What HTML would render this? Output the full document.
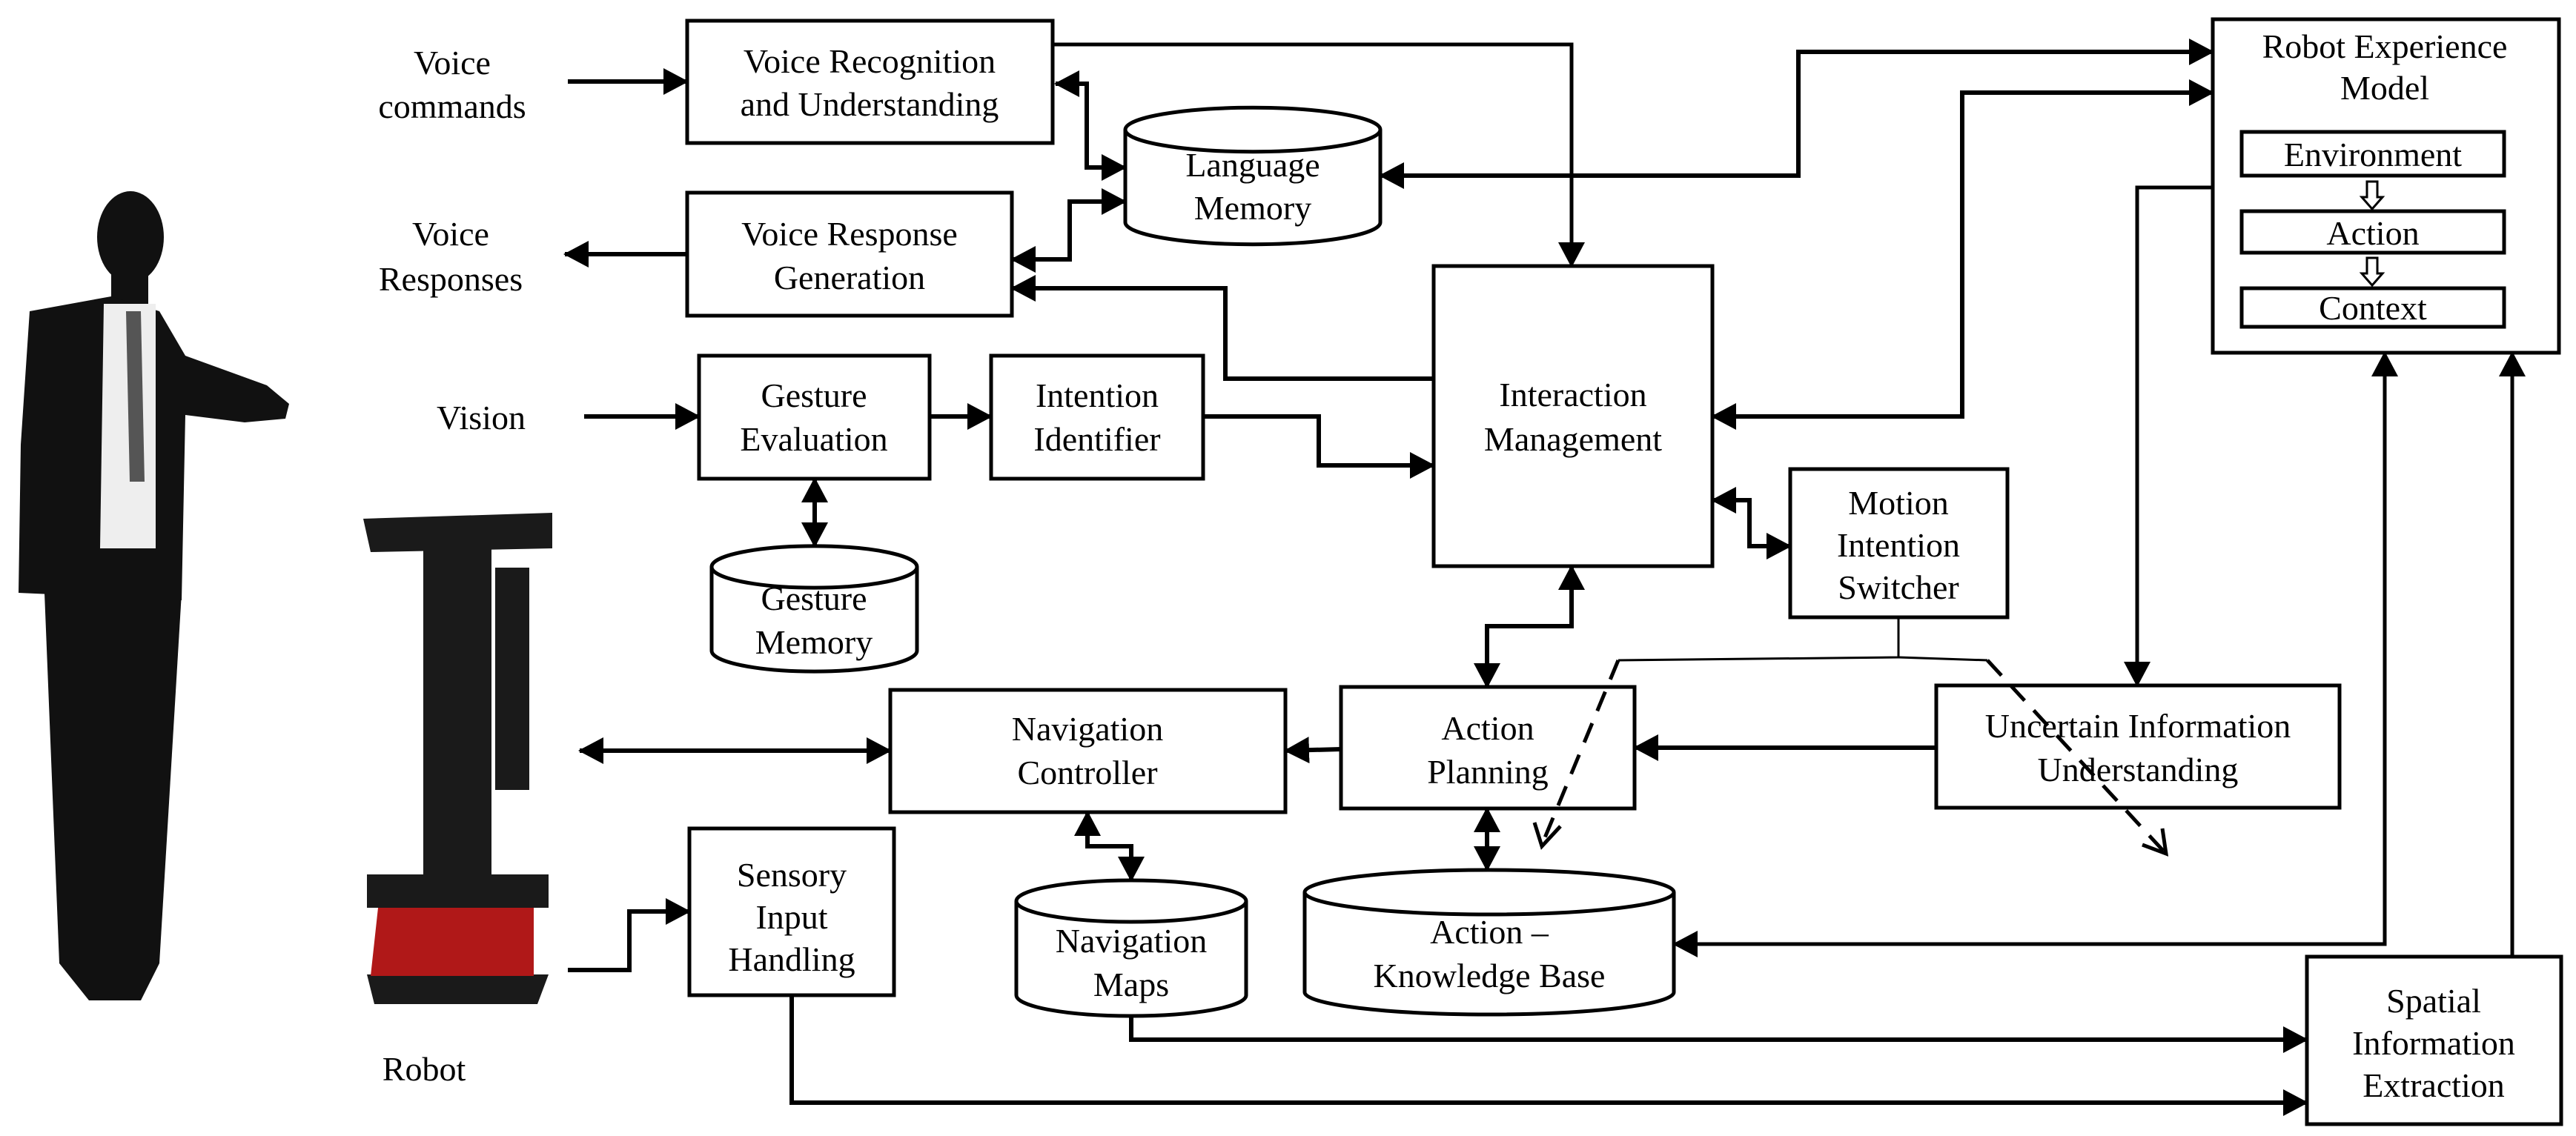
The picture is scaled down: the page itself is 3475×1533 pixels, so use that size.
<!DOCTYPE html>
<html><head><meta charset="utf-8"><style>
html,body{margin:0;padding:0;background:#fff;}
svg{display:block;}
text{font-family:"Liberation Serif",serif;font-size:46px;fill:#000;text-anchor:middle;}
</style></head><body>
<svg width="3475" height="1533" viewBox="0 0 3475 1533" xmlns="http://www.w3.org/2000/svg">
<defs>
<marker id="a" markerUnits="userSpaceOnUse" markerWidth="34" markerHeight="36" refX="32" refY="18" orient="auto-start-reverse">
<path d="M0,0 L34,18 L0,36 z" fill="#000"/>
</marker>
</defs>

<!-- person -->
<g fill="#111">
<ellipse cx="176" cy="320" rx="45" ry="62"/>
<rect x="150" y="360" width="50" height="70"/>
<path d="M40,420 L150,400 L215,420 L250,480 L360,520 L390,545 L385,565 L330,570 L250,560 L245,810 L25,800 L28,600 Z"/>
<path d="M60,800 L245,800 L215,1300 L190,1350 L120,1350 L80,1300 Z"/>
</g>
<path d="M140,410 L210,410 L210,740 L135,740 Z" fill="#eee"/>
<path d="M170,420 L190,420 L195,650 L175,650 Z" fill="#555"/>

<!-- robot -->
<g fill="#1a1a1a">
<path d="M490,700 L745,692 L745,740 L500,745 Z"/>
<rect x="571" y="735" width="92" height="470"/>
<rect x="668" y="766" width="46" height="300"/>
<path d="M495,1180 L740,1180 L740,1225 L495,1225 Z"/>
<path d="M495,1315 L740,1315 L725,1355 L505,1355 Z"/>
</g>
<path d="M510,1225 L720,1225 L720,1317 L500,1317 Z" fill="#b01818"/>
<text x="572" y="1458">Robot</text>

<g fill="none" stroke="#000" stroke-width="5">
<!-- boxes -->
<rect x="927" y="28" width="493" height="165"/>
<rect x="927" y="260" width="438" height="166"/>
<rect x="943" y="480" width="311" height="166"/>
<rect x="1337" y="480" width="286" height="166"/>
<rect x="1934" y="359" width="376" height="405"/>
<rect x="2415" y="633" width="293" height="200"/>
<rect x="2985" y="26" width="467" height="450"/>
<rect x="3024" y="178" width="354" height="59"/>
<rect x="3024" y="285" width="354" height="56"/>
<rect x="3024" y="389" width="354" height="52"/>
<rect x="1201" y="931" width="533" height="165"/>
<rect x="1809" y="927" width="396" height="164"/>
<rect x="2612" y="925" width="544" height="165"/>
<rect x="930" y="1118" width="276" height="225"/>
<rect x="3112" y="1291" width="343" height="226"/>
<!-- cylinders -->
<path d="M1518,175 A162,28 0 0 1 1862,175 L1862,300 A162,28 0 0 1 1518,300 Z M1518,175 A162,28 0 0 0 1862,175"/>
<path d="M960,765 A138,28 0 0 1 1237,765 L1237,878 A138,28 0 0 1 960,878 Z M960,765 A138,28 0 0 0 1237,765"/>
<path d="M1371,1216 A155,28 0 0 1 1681,1216 L1681,1343 A155,28 0 0 1 1371,1343 Z M1371,1216 A155,28 0 0 0 1681,1216"/>
<path d="M1760,1204 A249,30 0 0 1 2258,1204 L2258,1339 A249,30 0 0 1 1760,1339 Z M1760,1204 A249,30 0 0 0 2258,1204"/>
</g>

<g fill="none" stroke="#000" stroke-width="6" stroke-linejoin="miter">
<line x1="766" y1="110" x2="927" y2="110" marker-end="url(#a)"/>
<line x1="927" y1="343" x2="762" y2="343" marker-end="url(#a)"/>
<line x1="788" y1="562" x2="943" y2="562" marker-end="url(#a)"/>
<line x1="1254" y1="562" x2="1337" y2="562" marker-end="url(#a)"/>
<polyline points="1420,60 2120,60 2120,359" marker-end="url(#a)" stroke-width="5"/>
<polyline points="1424,113 1466,113 1466,226 1518,226" marker-start="url(#a)" marker-end="url(#a)"/>
<polyline points="1518,272 1443,272 1443,350 1365,350" marker-start="url(#a)" marker-end="url(#a)"/>
<polyline points="1934,511 1653,511 1653,389 1365,389" marker-end="url(#a)"/>
<polyline points="1099,646 1099,737" marker-start="url(#a)" marker-end="url(#a)"/>
<polyline points="1623,562 1779,562 1779,628 1934,628" marker-end="url(#a)"/>
<polyline points="1862,237 2426,237 2426,70 2985,70" marker-start="url(#a)" marker-end="url(#a)"/>
<polyline points="2985,125 2647,125 2647,562 2310,562" marker-start="url(#a)" marker-end="url(#a)"/>
<polyline points="2310,675 2360,675 2360,737 2415,737" marker-start="url(#a)" marker-end="url(#a)"/>
<polyline points="2985,253 2883,253 2883,925" marker-end="url(#a)" stroke-width="5"/>
<polyline points="2120,764 2120,845 2006,845 2006,927" marker-start="url(#a)" marker-end="url(#a)"/>
<line x1="2612" y1="1009" x2="2205" y2="1009" marker-end="url(#a)"/>
<line x1="1809" y1="1011" x2="1734" y2="1013" marker-end="url(#a)"/>
<line x1="2006" y1="1091" x2="2006" y2="1174" marker-start="url(#a)" marker-end="url(#a)"/>
<polyline points="2258,1274 3217,1274 3217,476" marker-start="url(#a)" marker-end="url(#a)" stroke-width="5"/>
<line x1="3389" y1="1291" x2="3389" y2="476" marker-end="url(#a)" stroke-width="5"/>
<line x1="782" y1="1013" x2="1201" y2="1013" marker-start="url(#a)" marker-end="url(#a)"/>
<polyline points="766,1309 849,1309 849,1230 930,1230" marker-end="url(#a)"/>
<polyline points="1467,1096 1467,1142 1526,1142 1526,1188" marker-start="url(#a)" marker-end="url(#a)"/>
<polyline points="1526,1371 1526,1403 3112,1403" marker-end="url(#a)"/>
<polyline points="1068,1343 1068,1488 3112,1488" marker-end="url(#a)"/>
</g>
<!-- dashed -->
<g fill="none" stroke="#000" stroke-width="3">
<polyline points="2561,833 2561,887 2183,891"/>
<polyline points="2561,887 2681,891"/>
</g>
<g fill="none" stroke="#000" stroke-width="5" stroke-dasharray="28,18">
<line x1="2183" y1="891" x2="2080" y2="1140"/>
<line x1="2681" y1="891" x2="2920" y2="1150"/>
</g>
<g fill="none" stroke="#000" stroke-width="5">
<polyline points="2070,1110 2080,1142 2105,1115"/>
<polyline points="2890,1140 2922,1152 2917,1118"/>
</g>
<!-- hollow arrows -->
<g fill="#fff" stroke="#000" stroke-width="3">
<path d="M3193,245 L3207,245 L3207,266 L3214,266 L3200,282 L3186,266 L3193,266 Z"/>
<path d="M3193,348 L3207,348 L3207,369 L3214,369 L3200,385 L3186,369 L3193,369 Z"/>
</g>

<!-- labels -->
<text x="610" y="100">Voice</text>
<text x="610" y="159">commands</text>
<text x="608" y="331">Voice</text>
<text x="608" y="392">Responses</text>
<text x="649" y="579">Vision</text>
<text x="1173" y="98">Voice Recognition</text>
<text x="1173" y="156">and Understanding</text>
<text x="1146" y="331">Voice Response</text>
<text x="1146" y="390">Generation</text>
<text x="1690" y="238">Language</text>
<text x="1690" y="296">Memory</text>
<text x="1098" y="549">Gesture</text>
<text x="1098" y="608">Evaluation</text>
<text x="1480" y="549">Intention</text>
<text x="1480" y="608">Identifier</text>
<text x="1098" y="823">Gesture</text>
<text x="1098" y="882">Memory</text>
<text x="2122" y="548">Interaction</text>
<text x="2122" y="608">Management</text>
<text x="2561" y="694">Motion</text>
<text x="2561" y="751">Intention</text>
<text x="2561" y="808">Switcher</text>
<text x="3217" y="78">Robot Experience</text>
<text x="3217" y="134">Model</text>
<text x="3201" y="224">Environment</text>
<text x="3201" y="330">Action</text>
<text x="3201" y="431">Context</text>
<text x="1467" y="999">Navigation</text>
<text x="1467" y="1058">Controller</text>
<text x="2007" y="998">Action</text>
<text x="2007" y="1057">Planning</text>
<text x="2884" y="995">Uncertain Information</text>
<text x="2884" y="1054">Understanding</text>
<text x="1068" y="1196">Sensory</text>
<text x="1068" y="1253">Input</text>
<text x="1068" y="1310">Handling</text>
<text x="1526" y="1285">Navigation</text>
<text x="1526" y="1344">Maps</text>
<text x="2009" y="1273">Action –</text>
<text x="2009" y="1332">Knowledge Base</text>
<text x="3283" y="1366">Spatial</text>
<text x="3283" y="1423">Information</text>
<text x="3283" y="1480">Extraction</text>
</svg>
</body></html>
